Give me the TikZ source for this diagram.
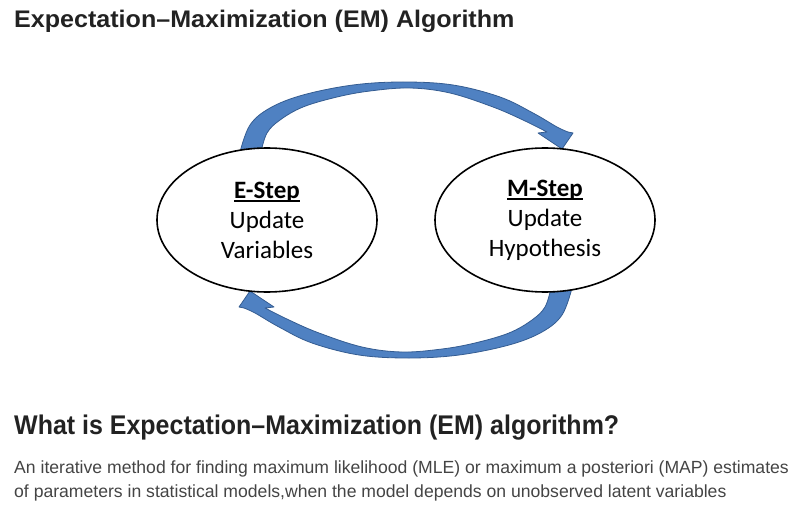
\documentclass[tikz,border=0pt]{standalone}
\usepackage{fontspec}
\setmainfont{Liberation Sans}
\newfontfamily\stepfont{Carlito}
\newfontfamily\headfont[FakeStretch=1.045]{Liberation Sans}
\newfontfamily\subheadfont[FakeStretch=0.925]{Liberation Sans}
\usetikzlibrary{shapes.geometric}
\definecolor{arrowblue}{RGB}{79,129,194}
\definecolor{arrowedge}{RGB}{52,92,145}
\definecolor{inkdark}{RGB}{34,34,34}
\definecolor{inkgray}{RGB}{68,68,68}
\newcommand{\steplabel}[1]{\setbox0\hbox{\bfseries #1}\rlap{\rule[-3.5pt]{\wd0}{1.4pt}}\box0}

\begin{document}
\begin{tikzpicture}[x=1pt,y=-1pt,
    stepellipse/.style={ellipse,draw=black,fill=white,line width=1.6pt,
      minimum width=220pt,minimum height=144pt,inner sep=0pt,align=center,
      font=\stepfont\fontsize{25}{30}\selectfont},
    cyclearrow/.style={fill=arrowblue,draw=arrowedge,line width=0.8pt,line join=round},
    textline/.style={anchor=base west,inner sep=0pt}]
\useasboundingbox (0,0) rectangle (795,508);

\node[textline,text=inkdark,font=\headfont\bfseries\fontsize{24}{28}\selectfont] (title) at (14,28) {Expectation–Maximization (EM) Algorithm};

% the two curved block arrows, second one is the first turned half round
\foreach \ang in {0,180}
  \filldraw[cyclearrow,rotate around={\ang:(406,220)}]
    plot[smooth,tension=0.6] coordinates {(240,152) (250,125) (270,108) (303,95) (353,85) (403,82) (453,85) (500,97) (533,113) (557,127) (568,132)}
    -- (573,133) -- (562,149) -- (538,133) -- (547,132)
    -- plot[smooth,tension=0.6] coordinates {(547,132) (523,120) (493,107) (450,93) (410,88) (370,91) (337,97) (303,107) (280,120) (267,133) (261,152)}
    -- cycle;

\node[stepellipse] (estep) at (267,220) {\steplabel{E-Step}\\Update\\Variables};
\node[stepellipse] (mstep) at (545,220) {\steplabel{M-Step}\\Update\\Hypothesis};

\node[textline,text=inkdark,font=\subheadfont\bfseries\fontsize{27}{32}\selectfont] (question) at (14,434) {What is Expectation–Maximization (EM) algorithm?};
\node[textline,text=inkgray,font=\fontsize{17.6}{24}\selectfont] (answer) at (14,473) {An iterative method for finding maximum likelihood (MLE) or maximum a posteriori (MAP) estimates};
\node[textline,text=inkgray,font=\fontsize{17.6}{24}\selectfont] (answermore) at (14,497) {of parameters in statistical models,when the model depends on unobserved latent variables};
\end{tikzpicture}
\end{document}
